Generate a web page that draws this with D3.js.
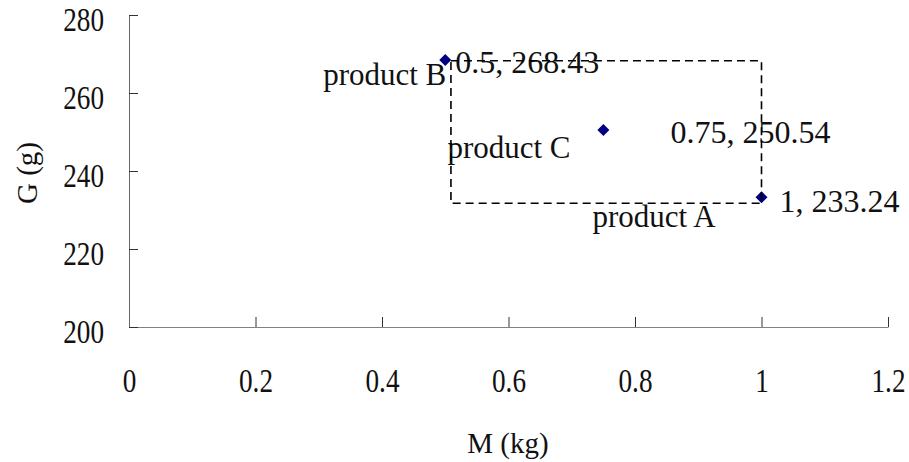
<!DOCTYPE html>
<html>
<head>
<meta charset="utf-8">
<script src="https://cdn.jsdelivr.net/npm/d3@7"></script>
<style>
  html, body { margin: 0; padding: 0; background: #fff; }
  svg { display: block; }
  svg text { font-family: "Liberation Serif", "Times New Roman", serif; }
</style>
</head>
<body>
<svg id="chart" width="909" height="462"></svg>
<script>
// Products and their measured mass / weight
const products = ["product A", "product B", "product C"];
const massKg = [1, 0.5, 0.75];
const weightG = [233.24, 268.43, 250.54];

// Axis ticks
const xTicks = [0, 0.2, 0.4, 0.6, 0.8, 1, 1.2];
const yTicks = [200, 220, 240, 260, 280];

// Dashed reference box (data coordinates)
const boxM = [0.509, 1];
const boxG = [231.72, 268.28];

// Label placement around each point (pixel offsets)
const valueLabelOffset = [[18, 14.5], [10, 13], [67, 13]];
const nameLabelOffset = [[-169, 30], [1, 25], [-156, 28]];
const nameLabelAnchor = ["start", "end", "start"];

const svg = d3.select("#chart");
const x = d3.scaleLinear().domain([0, 1.2]).range([129, 888]);
const y = d3.scaleLinear().domain([200, 280]).range([327, 15]);

// X axis (ticks point into the plot)
const gx = svg.append("g")
  .attr("transform", `translate(0,${y(200)})`)
  .call(d3.axisBottom(x).tickValues(xTicks).tickSizeInner(-10).tickSizeOuter(0)
    .tickFormat(d3.format("~g")))
  .attr("font-family", null);
gx.select(".domain").attr("stroke", "#808080");
gx.selectAll(".tick line").attr("stroke", "#333");
gx.selectAll(".tick text")
  .attr("y", null).attr("dy", null)
  .attr("transform", "translate(0,65) scale(0.8,1)")
  .attr("font-size", 34)
  .attr("fill", "#111");

// Y axis (ticks point into the plot)
const gy = svg.append("g")
  .attr("transform", `translate(${x(0)},0)`)
  .call(d3.axisLeft(y).tickValues(yTicks).tickSizeInner(-9).tickSizeOuter(0))
  .attr("font-family", null);
gy.select(".domain").attr("stroke", "#666");
gy.selectAll(".tick line").attr("stroke", "#333");
gy.selectAll(".tick text")
  .attr("x", null).attr("dy", null)
  .attr("transform", "translate(-25,15.7) scale(0.8,1)")
  .attr("text-anchor", "end")
  .attr("font-size", 34)
  .attr("fill", "#111");

// Axis titles
svg.append("text")
  .attr("x", 508).attr("y", 453)
  .attr("text-anchor", "middle")
  .attr("font-size", 29).attr("fill", "#111")
  .text("M (kg)");
svg.append("text")
  .attr("transform", "translate(36.5,173) rotate(-90)")
  .attr("text-anchor", "middle")
  .attr("font-size", 29).attr("fill", "#111")
  .text("G (g)");

// Points
const pts = products.map((p, i) => ({ name: p, m: massKg[i], g: weightG[i] }));

svg.append("g").selectAll("path")
  .data(pts)
  .join("path")
  .attr("d", d3.symbol(d3.symbolSquare, 72))
  .attr("transform", d => `translate(${x(d.m)},${y(d.g)}) rotate(45)`)
  .attr("fill", "#000080");

// Value labels
svg.append("g").selectAll("text")
  .data(pts)
  .join("text")
  .attr("x", (d, i) => x(d.m) + valueLabelOffset[i][0])
  .attr("y", (d, i) => y(d.g) + valueLabelOffset[i][1])
  .attr("font-size", 32).attr("fill", "#111")
  .text(d => `${d.m}, ${d.g}`);

// Product name labels
svg.append("g").selectAll("text")
  .data(pts)
  .join("text")
  .attr("x", (d, i) => x(d.m) + nameLabelOffset[i][0])
  .attr("y", (d, i) => y(d.g) + nameLabelOffset[i][1])
  .attr("text-anchor", (d, i) => nameLabelAnchor[i])
  .attr("font-size", 31).attr("fill", "#111")
  .text(d => d.name);

// Dashed box
svg.append("rect")
  .attr("x", x(boxM[0])).attr("y", y(boxG[1]))
  .attr("width", x(boxM[1]) - x(boxM[0]))
  .attr("height", y(boxG[0]) - y(boxG[1]))
  .attr("fill", "none")
  .attr("stroke", "#000").attr("stroke-width", 1.6)
  .attr("stroke-dasharray", "8,5");
</script>
</body>
</html>
